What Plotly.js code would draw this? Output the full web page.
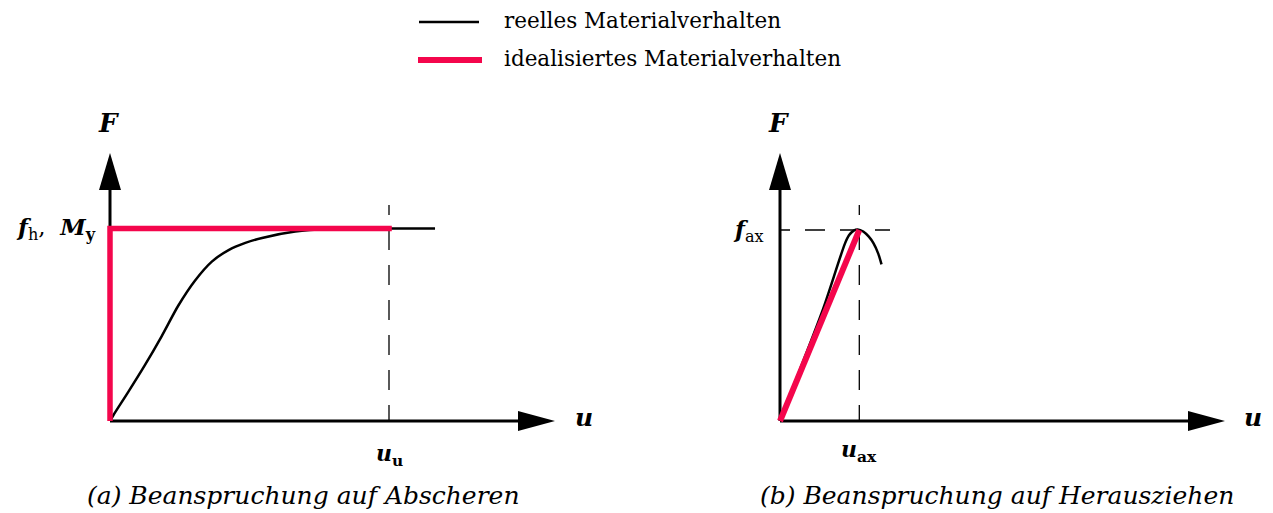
<!DOCTYPE html>
<html>
<head>
<meta charset="utf-8">
<script src="https://cdn.plot.ly/plotly-3.0.1.min.js"></script>
<style>
  html, body { margin: 0; padding: 0; background: #fff; }
  #chart { width: 1273px; height: 513px; }
</style>
</head>
<body>
<div id="chart"></div>
<script>
// ---- data -------------------------------------------------------------
// (a) shear loading: real load-slip curve (u normalised to u_u, F to f_h)
const shearU = [0, 0.012, 0.065, 0.125, 0.185, 0.245, 0.305, 0.365, 0.425, 0.485, 0.545, 0.664, 0.783, 1.0, 1.165];
const shearF = [0, 0.03, 0.15, 0.29, 0.44, 0.60, 0.73, 0.828, 0.888, 0.925, 0.951, 0.984, 0.997, 1.0, 1.0];
// (a) idealised rigid-plastic behaviour
const shearIdealU = [0, 0, 1.01];
const shearIdealF = [0, 1, 1];

// (b) withdrawal loading: real load-slip curve (u normalised to u_ax, F to f_ax)
const pullU = [0, 0.28, 0.546, 0.82, 0.87, 0.93, 0.98, 1.05, 1.12, 1.18, 1.24, 1.28];
const pullF = [0, 0.30, 0.59, 0.93, 0.972, 0.997, 1.003, 0.992, 0.965, 0.93, 0.875, 0.82];
// (b) idealised linear-elastic behaviour
const pullIdealU = [0, 1];
const pullIdealF = [0, 1];

// characteristic values (reference lines) and their labels
const shearRef = { u: 1.0, F: 1.0 };
const pullRef = { u: 1.0, F: 1.0 };
const shearLabels = { u: '<b><i>u</i><sub>u</sub></b>', F: '<b><i>f</i></b><sub>h</sub>,  <b><i>M</i><sub>y</sub></b>' };
const pullLabels = { u: '<b><i>u</i><sub>ax</sub></b>', F: '<b><i>f</i></b><sub>ax</sub>' };
const seriesNames = ['reelles Materialverhalten', 'idealisiertes Materialverhalten'];
const captions = ['(a) Beanspruchung auf Abscheren', '(b) Beanspruchung auf Herausziehen'];

// ---- layout geometry --------------------------------------------------
const W = 1273, H = 513;
const RED = '#f4064c';
const FONT = 'DejaVu Serif';
// origin pixel and pixels per unit for each panel
const A = { ox: 110, oy: 421, sx: 279, sy: 192.5, x0: 0, x1: 640 };
const B = { ox: 780, oy: 421, sx: 79.3, sy: 191, x0: 700, x1: W };

function xr(p) { return [(p.x0 - p.ox) / p.sx, (p.x1 - p.ox) / p.sx]; }
function yr(p) { return [-(H - p.oy) / p.sy, p.oy / p.sy]; }
// convert a pixel offset to data units
const dx = (p, px) => px / p.sx;
const dy = (p, px) => px / p.sy;

const traces = [
  { x: shearU, y: shearF, xaxis: 'x', yaxis: 'y', mode: 'lines', name: seriesNames[0],
    line: { color: '#000', width: 2.5, shape: 'spline', smoothing: 0.8 }, showlegend: false, hoverinfo: 'skip' },
  { x: shearIdealU, y: shearIdealF, xaxis: 'x', yaxis: 'y', mode: 'lines', name: seriesNames[1],
    line: { color: RED, width: 5.5 }, showlegend: false, hoverinfo: 'skip' },
  { x: pullU, y: pullF, xaxis: 'x2', yaxis: 'y2', mode: 'lines', name: seriesNames[0],
    line: { color: '#000', width: 2.5, shape: 'spline', smoothing: 0.8 }, showlegend: false, hoverinfo: 'skip' },
  { x: pullIdealU, y: pullIdealF, xaxis: 'x2', yaxis: 'y2', mode: 'lines', name: seriesNames[1],
    line: { color: RED, width: 6 }, showlegend: false, hoverinfo: 'skip' }
];

const DASH = '10px,15px,20px,15px,20px,15px,20px,15px,20px,15px,20px,15px,20px,15px,20px,15px';

// axis lines with filled arrowheads; tip 268 px above / 445 px right of the origin
function axesShapes(p, xref, yref) {
  const yTip = dy(p, 268), yBase = dy(p, 231);
  const xTip = dx(p, 445), xBase = dx(p, 408);
  const hwX = dx(p, 11), hwY = dy(p, 10);
  return [
    { type: 'line', xref, yref, x0: 0, y0: 0, x1: 0, y1: yBase + dy(p, 4), line: { color: '#000', width: 3 }, layer: 'below' },
    { type: 'path', xref, yref, path: `M ${-hwX} ${yBase} L 0 ${yTip} L ${hwX} ${yBase} Z`, fillcolor: '#000', line: { width: 0 }, layer: 'below' },
    { type: 'line', xref, yref, x0: 0, y0: 0, x1: xBase + dx(p, 4), y1: 0, line: { color: '#000', width: 3 }, layer: 'below' },
    { type: 'path', xref, yref, path: `M ${xBase} ${-hwY} L ${xTip} 0 L ${xBase} ${hwY} Z`, fillcolor: '#000', line: { width: 0 }, layer: 'below' }
  ];
}

const shapes = [
  ...axesShapes(A, 'x', 'y'),
  ...axesShapes(B, 'x2', 'y2'),
  // reference line at u_u
  { type: 'line', xref: 'x', yref: 'y', x0: shearRef.u, x1: shearRef.u, y0: dy(A, 216), y1: 0,
    line: { color: '#000', width: 1.3, dash: DASH }, layer: 'below' },
  // reference lines at u_ax and f_ax
  { type: 'line', xref: 'x2', yref: 'y2', x0: pullRef.u, x1: pullRef.u, y0: dy(B, 216), y1: 0,
    line: { color: '#000', width: 1.3, dash: DASH }, layer: 'below' },
  { type: 'line', xref: 'x2', yref: 'y2', x0: 0, x1: dx(B, 110), y0: pullRef.F, y1: pullRef.F,
    line: { color: '#000', width: 1.3, dash: DASH }, layer: 'below' },
  // legend keys
  { type: 'line', xref: 'paper', yref: 'paper', x0: 419 / W, x1: 479 / W, y0: 1 - 22 / H, y1: 1 - 22 / H,
    line: { color: '#000', width: 2.5 } },
  { type: 'line', xref: 'paper', yref: 'paper', x0: 418 / W, x1: 482 / W, y0: 1 - 60 / H, y1: 1 - 60 / H,
    line: { color: RED, width: 6 } }
];

const mathFont = { family: FONT, size: 25, color: '#000' };
const lab = (xref, yref, x, y, text, size, extra) =>
  Object.assign({ xref, yref, x, y, text, showarrow: false, xanchor: 'center', yanchor: 'middle',
    font: { ...mathFont, size } }, extra || {});

const annotations = [
  // (a) axis labels
  lab('x', 'y', dx(A, -2), dy(A, 298), '<b><i>F</i></b>', 26),
  lab('x', 'y', dx(A, 474), dy(A, 4), '<b><i>u</i></b>', 25),
  lab('x', 'y', shearRef.u, -dy(A, 34), shearLabels.u, 22),
  lab('x', 'y', -dx(A, 12), shearRef.F, shearLabels.F, 23, { xanchor: 'right' }),
  // (b) axis labels
  lab('x2', 'y2', dx(B, -2), dy(B, 298), '<b><i>F</i></b>', 26),
  lab('x2', 'y2', dx(B, 473), dy(B, 4), '<b><i>u</i></b>', 25),
  lab('x2', 'y2', pullRef.u, -dy(B, 30), pullLabels.u, 22),
  lab('x2', 'y2', -dx(B, 14), pullRef.F, pullLabels.F, 23, { xanchor: 'right' }),
  // captions
  lab('paper', 'paper', 303 / W, 1 - 495 / H, '<i>' + captions[0] + '</i>', 25),
  lab('paper', 'paper', 997 / W, 1 - 495 / H, '<i>' + captions[1] + '</i>', 25),
  // legend labels
  lab('paper', 'paper', 502 / W, 1 - 20 / H, seriesNames[0], 21.5, { xanchor: 'left' }),
  lab('paper', 'paper', 502 / W, 1 - 59 / H, seriesNames[1], 21.5, { xanchor: 'left' })
];

const hidden = { visible: false, showgrid: false, zeroline: false, fixedrange: true };
const layout = {
  width: W, height: H,
  margin: { l: 0, r: 0, t: 0, b: 0, pad: 0 },
  paper_bgcolor: '#fff', plot_bgcolor: 'rgba(0,0,0,0)',
  showlegend: false,
  xaxis: { ...hidden, domain: [A.x0 / W, A.x1 / W], range: xr(A) },
  yaxis: { ...hidden, domain: [0, 1], range: yr(A) },
  xaxis2: { ...hidden, domain: [B.x0 / W, B.x1 / W], range: xr(B), anchor: 'y2' },
  yaxis2: { ...hidden, domain: [0, 1], range: yr(B), anchor: 'x2' },
  shapes, annotations
};

Plotly.newPlot('chart', traces, layout, { staticPlot: true, displayModeBar: false });
</script>
</body>
</html>
